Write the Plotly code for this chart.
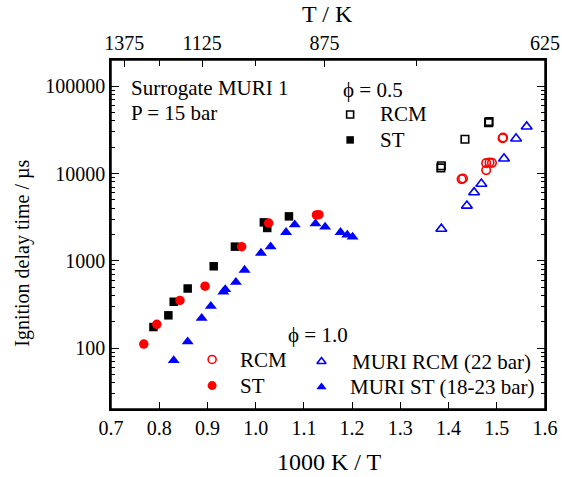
import plotly.graph_objects as go

# Ignition delay times vs inverse temperature, surrogate MURI 1 at 15 bar
# phi = 0.5
phi05_rcm_x = [1.385, 1.384, 1.434, 1.484, 1.483]
phi05_rcm_y = [12250, 11600, 24700, 39300, 38300]
phi05_st_x = [0.788, 0.819, 0.830, 0.859, 0.913, 0.957, 1.017, 1.024, 1.069]
phi05_st_y = [174, 237, 339, 481, 865, 1452, 2755, 2377, 3228]

# phi = 1.0
phi10_rcm_x = [1.512, 1.513, 1.478, 1.485, 1.490, 1.478, 1.427, 1.430]
phi10_rcm_y = [25400, 25800, 13150, 13370, 13250, 10950, 8630, 8770]
phi10_st_x = [0.768, 0.795, 0.843, 0.895, 0.971, 1.027, 1.126, 1.131]
phi10_st_y = [111, 187, 351, 511, 1452, 2710, 3350, 3375]

# MURI reference data
muri_rcm_x = [1.385, 1.438, 1.453, 1.468, 1.515, 1.540, 1.562]
muri_rcm_y = [2317, 4276, 6070, 7620, 14830, 25120, 34440]
muri_st_x = [0.830, 0.859, 0.888, 0.907, 0.933, 0.937, 0.959, 0.977, 1.011,
             1.031, 1.063, 1.081, 1.124, 1.144, 1.176, 1.190, 1.201]
muri_st_y = [72, 118, 220, 302, 441, 469, 568, 783, 1225,
             1452, 2120, 2595, 2663, 2440, 2120, 1977, 1875]

# axis ticks
x_ticks = [0.7, 0.8, 0.9, 1.0, 1.1, 1.2, 1.3, 1.4, 1.5, 1.6]
y_ticks = [100, 1000, 10000, 100000]
t_labels = [1375, 1125, 875, 625]
t_minor = [1250, 1000, 750]

FONT = "Liberation Serif"
BLACK, RED, BLUE = "#000000", "#ff0000", "#0000ff"
X_RANGE = [0.7, 1.6]
Y_LOG_RANGE = [1.30103, 5.30103]

fig = go.Figure()


def add_points(x, y, symbol, color, size, xaxis="x", yaxis="y"):
    open_sym = symbol.endswith("-open")
    fig.add_trace(go.Scatter(
        x=x, y=y, mode="markers", xaxis=xaxis, yaxis=yaxis,
        marker=dict(symbol=symbol, size=size, color=color,
                    line=dict(width=1.6 if open_sym else 0, color=color)),
        showlegend=False, hoverinfo="skip", cliponaxis=False))


# the top (temperature) axis and the right axis share the main ranges,
# so binding a series to them leaves its position unchanged
add_points(phi05_rcm_x, phi05_rcm_y, "square-open", BLACK, 7.5, yaxis="y2")
add_points(phi05_st_x, phi05_st_y, "square", BLACK, 8.5)
add_points(phi10_rcm_x, phi10_rcm_y, "circle-open", RED, 8.5)
add_points(phi10_st_x, phi10_st_y, "circle", RED, 9.5)
add_points(muri_rcm_x, muri_rcm_y, "triangle-up-open", BLUE, 9.5)
add_points(muri_st_x, muri_st_y, "triangle-up", BLUE, 10.5, xaxis="x2")

PX0, PX1, PY0, PY1 = 111.3, 545.5, 60.0, 409.0


def fx(px):
    return (px - PX0) / (PX1 - PX0)


def fy(py):
    return (PY1 - py) / (PY1 - PY0)


def frac_to_data(xf, yf):
    return (X_RANGE[0] + xf * (X_RANGE[1] - X_RANGE[0]),
            10 ** (Y_LOG_RANGE[0] + yf * (Y_LOG_RANGE[1] - Y_LOG_RANGE[0])))


# key symbols (positions as fractions of the plot area)
key = [
    (0.551, 0.844, "square-open", BLACK, 7),
    (0.551, 0.771, "square", BLACK, 7.5),
    (0.233, 0.142, "circle-open", RED, 8),
    (0.233, 0.067, "circle", RED, 9),
    (0.485, 0.136, "triangle-up-open", BLUE, 8),
    (0.485, 0.063, "triangle-up", BLUE, 9),
]
for kx, ky, sym, col, sz in key:
    dx, dy = frac_to_data(kx, ky)
    add_points([dx], [dy], sym, col, sz)

labels = [
    ("Surrogate MURI 1", 130, 88.3),
    ("P = 15 bar", 130, 113.3),
    ("ϕ = 0.5", 342, 90),
    ("RCM", 379, 114),
    ("ST", 379, 140),
    ("ϕ = 1.0", 287, 335),
    ("RCM", 239, 360),
    ("ST", 239, 386),
    ("MURI RCM (22 bar)", 351, 362),
    ("MURI ST (18-23 bar)", 349, 387),
]
annotations = []
for txt, px, py in labels:
    annotations.append(dict(
        text=txt, x=fx(px), y=fy(py), xref="paper", yref="paper",
        xanchor="left", yanchor="middle", showarrow=False,
        font=dict(family=FONT, size=21, color="black"), borderpad=0))

# axis titles
annotations += [
    dict(text="1000 K / T", x=fx(330), y=fy(462), xref="paper", yref="paper",
         xanchor="center", yanchor="middle", showarrow=False,
         font=dict(family=FONT, size=24, color="black")),
    dict(text="T / K", x=fx(328), y=fy(14), xref="paper", yref="paper",
         xanchor="center", yanchor="middle", showarrow=False,
         font=dict(family=FONT, size=24, color="black")),
    dict(text="Ignition delay time / µs", x=fx(22), y=fy(253), xref="paper",
         yref="paper", xanchor="center", yanchor="middle", showarrow=False,
         textangle=-90, font=dict(family=FONT, size=20, color="black")),
]

y_minor = [k * 10 ** e for e in range(1, 6) for k in range(2, 10)
           if 20 <= k * 10 ** e <= 200000]

axis_common = dict(showline=True, linecolor="black", linewidth=1.5,
                   ticks="inside", tickcolor="black", tickwidth=1.3,
                   showgrid=False, zeroline=False,
                   tickfont=dict(family=FONT, size=20, color="black"))

y_common = dict(type="log", range=Y_LOG_RANGE, tickmode="array",
                tickvals=y_ticks, ticktext=[str(v) for v in y_ticks],
                ticklen=8,
                minor=dict(tickmode="array", tickvals=y_minor, ticks="inside",
                           ticklen=4, tickcolor="black", tickwidth=1.1),
                **axis_common)

fig.update_layout(
    width=562, height=477, autosize=False,
    margin=dict(l=PX0, r=562 - PX1, t=PY0, b=477 - PY1, pad=0,
                autoexpand=False),
    paper_bgcolor="white", plot_bgcolor="white",
    annotations=annotations,
    shapes=[dict(type="rect", xref="paper", yref="paper", x0=0, x1=1,
                 y0=0, y1=1, line=dict(color="black", width=1.5),
                 layer="above")],
    xaxis=dict(range=X_RANGE, tickmode="array", tickvals=x_ticks,
               ticktext=[f"{v:.1f}" for v in x_ticks], ticklen=7,
               mirror=False, **axis_common),
    xaxis2=dict(range=X_RANGE, overlaying="x", side="top", anchor="y",
                tickmode="array", tickvals=[1000 / t for t in t_labels],
                ticktext=[str(t) for t in t_labels], ticklen=7,
                minor=dict(tickmode="array", tickvals=[1000 / t for t in t_minor],
                           ticks="inside", ticklen=6, tickcolor="black",
                           tickwidth=1.3),
                **axis_common),
    yaxis=dict(side="left", **y_common),
    yaxis2=dict(side="right", overlaying="y", anchor="x",
                showticklabels=False, **y_common),
)

fig.write_html("out.html", config={"responsive": False})
